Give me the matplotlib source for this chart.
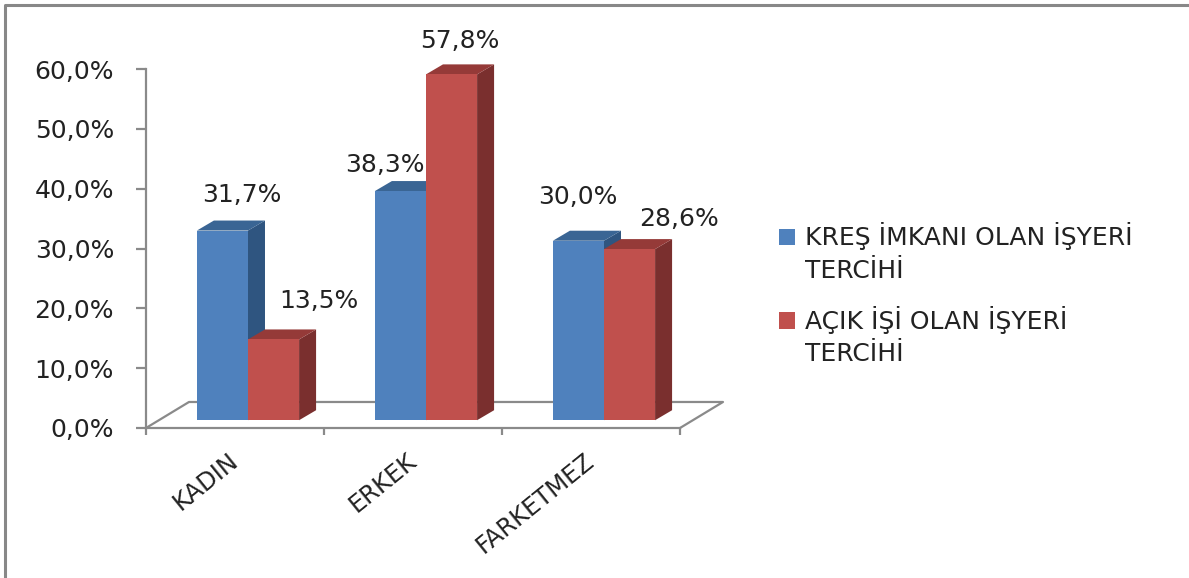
"""Turkish workplace preference chart, 3D-look clustered columns."""

import matplotlib
matplotlib.use("Agg")
import matplotlib.pyplot as plt
from matplotlib.lines import Line2D
from matplotlib.patches import Patch

CATEGORIES = ["KADIN", "ERKEK", "FARKETMEZ"]
KRES = [31.7, 38.3, 30.0]
ACIK = [13.5, 57.8, 28.6]
SERIES_NAMES = ["KREŞ İMKANI OLAN İŞYERİ\nTERCİHİ", "AÇIK İŞİ OLAN İŞYERİ\nTERCİHİ"]
YTICKS = [0, 10, 20, 30, 40, 50, 60]

GRAY = "#8a8a8a"
TEXT = "#222222"
FONT = "DejaVu Sans"
FRONT = ["#4f81bd", "#c0504d"]
TOP = ["#3a6594", "#953a38"]
SIDE = ["#2f5580", "#7a2f2e"]

# layout, in data units (x: 178 px per category, y: 5.98 px per percent)
BAR_W = 0.287
BAR_SHIFT = 0.573
BASE = 1.3
DEPTH_X = 17 / 178
DEPTH_Y = 10 / 5.98
FLOOR_X = 43 / 178
FLOOR_Y = 26 / 5.98
# label centre relative to front-top-centre of its bar, in pixels
LABEL_OFFSETS = [
    [(19, 36), (45, 38)],
    [(-16, 26), (8, 33)],
    [(-1, 44), (49, 30)],
]

plt.rcParams["font.family"] = [FONT]

fig = plt.figure(figsize=(11.89, 5.78), dpi=100)
ax = fig.add_axes([146 / 1189, (578 - 428) / 578, 534 / 1189, 359 / 578])
ax.set_xlim(0, 3)
ax.set_ylim(0, 60)

# floor of the 3D box
ax.plot(
    [0, FLOOR_X, 3 + FLOOR_X, 3],
    [0, FLOOR_Y, FLOOR_Y, 0],
    color=GRAY, lw=1.6, clip_on=False, zorder=1,
)

for i in range(len(CATEGORIES)):
    for s, values in enumerate([KRES, ACIK]):
        left = i + BAR_SHIFT - BAR_W + s * BAR_W
        right = left + BAR_W
        top = BASE + values[i]
        z = 3 + s
        ax.fill(
            [right, right + DEPTH_X, right + DEPTH_X, right],
            [BASE, BASE + DEPTH_Y, top + DEPTH_Y, top],
            color=SIDE[s], lw=0, clip_on=False, zorder=z,
        )
        ax.fill(
            [left, left + DEPTH_X, right + DEPTH_X, right],
            [top, top + DEPTH_Y, top + DEPTH_Y, top],
            color=TOP[s], lw=0, clip_on=False, zorder=z,
        )
        ax.bar(
            left, values[i], BAR_W, bottom=BASE, align="edge",
            color=FRONT[s], lw=0, clip_on=False, zorder=z + 0.5,
        )
        ax.annotate(
            f"{values[i]:.1f}%".replace(".", ","),
            xy=(left + BAR_W / 2, top),
            xytext=LABEL_OFFSETS[i][s],
            textcoords="offset pixels",
            ha="center", va="center",
            fontsize=18, color=TEXT, zorder=10, annotation_clip=False,
        )

for side in ["top", "right"]:
    ax.spines[side].set_visible(False)
for side in ["left", "bottom"]:
    ax.spines[side].set_color(GRAY)
    ax.spines[side].set_linewidth(1.6)

ax.set_yticks(YTICKS)
ax.set_yticklabels([f"{v:.1f}%".replace(".", ",") for v in YTICKS])
ax.tick_params(axis="y", length=7, width=1.6, color=GRAY, labelsize=18,
               labelcolor=TEXT, pad=16)

ax.set_xticks(range(len(CATEGORIES) + 1))
ax.set_xticklabels([])
ax.tick_params(axis="x", which="major", length=5, width=1.6, color=GRAY)
ax.set_xticks([i + 0.46 for i in range(len(CATEGORIES))], minor=True)
ax.set_xticklabels(CATEGORIES, minor=True, rotation=39, ha="right",
                   rotation_mode="anchor", fontsize=17.5, color=TEXT)
ax.tick_params(axis="x", which="minor", length=0, pad=15)

handles = [Patch(facecolor=c, edgecolor="none") for c in FRONT]
legend = fig.legend(
    handles, SERIES_NAMES,
    loc="center left", bbox_to_anchor=(779 / 1189, 1 - 294 / 578),
    frameon=False, fontsize=18, labelcolor=TEXT,
    borderpad=0, borderaxespad=0,
    handlelength=0.64, handleheight=0.64, handletextpad=0.4,
    labelspacing=0.92,
)
for label in legend.get_texts():
    label.set_linespacing(1.43)
# swatch sits beside the first line of each wrapped entry
for swatch in legend.get_patches():
    swatch.set_y(swatch.get_y() + 11.5)

# chart frame, only top and left survive in the crop
fig.add_artist(Line2D([5 / 1189, 5 / 1189, 1], [0, 1 - 5 / 578, 1 - 5 / 578],
                      color="#888888", lw=2.2))

fig.savefig("out.png", dpi=100)
